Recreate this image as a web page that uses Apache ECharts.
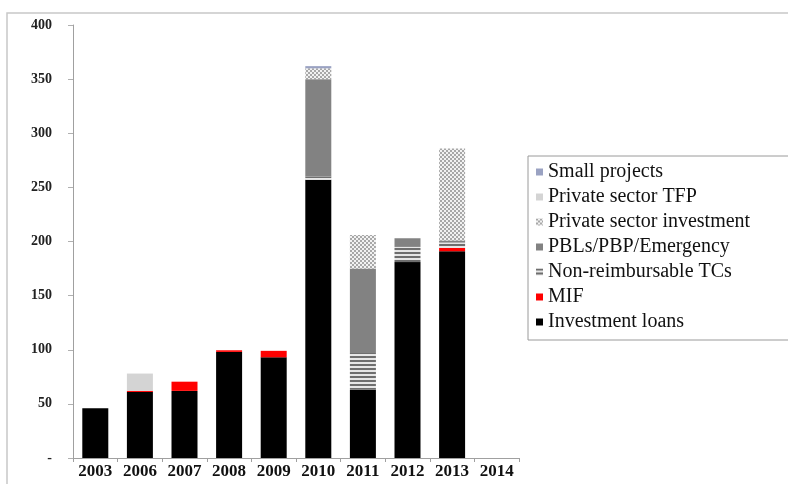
<!DOCTYPE html>
<html>
<head>
<meta charset="utf-8">
<script src="https://cdn.jsdelivr.net/npm/echarts@6/dist/echarts.min.js"></script>
<style>
  html, body { margin: 0; padding: 0; background: #fff; }
  #chart { width: 788px; height: 484px; }
</style>
</head>
<body>
<div id="chart"></div>
<script>
// categories and stacked values (bottom to top)
var years = ['2003', '2006', '2007', '2008', '2009', '2010', '2011', '2012', '2013', '2014'];
var investmentLoans = [46, 61, 62, 98, 93, 257, 63, 181, 191, null];
var mif = [null, 1, 8.5, 1.5, 6, null, null, null, 3, null];
var nonReimbTCs = [null, null, null, null, null, 3, 34, 14, 5, null];
var pbls = [null, null, null, null, null, 90, 78, 8, 2, null];
var privateInvestment = [null, null, null, null, null, 10, 31, null, 85, null];
var privateTFP = [null, 16, null, null, null, null, null, null, null, null];
var smallProjects = [null, null, null, null, null, 2, null, null, null, null];

// little canvas textures for the hatched series
function makePattern(w, h, draw) {
  var c = document.createElement('canvas');
  c.width = w; c.height = h;
  draw(c.getContext('2d'));
  return { image: c, repeat: 'repeat' };
}
var stripes = makePattern(4, 4, function (ctx) {
  ctx.fillStyle = '#e6e6e6'; ctx.fillRect(0, 0, 4, 4);
  ctx.fillStyle = '#6e6e6e'; ctx.fillRect(0, 0, 4, 2);
});
var checks = makePattern(4, 4, function (ctx) {
  ctx.fillStyle = '#f2f2f2'; ctx.fillRect(0, 0, 4, 4);
  ctx.fillStyle = '#a8a8a8';
  ctx.fillRect(0, 0, 2, 2); ctx.fillRect(2, 2, 2, 2);
});

var chart = echarts.init(document.getElementById('chart'));

function bar(name, data, color) {
  return {
    name: name,
    type: 'bar',
    stack: 'total',
    barWidth: 26,
    data: data,
    itemStyle: { color: color }
  };
}

var option = {
  animation: false,
  backgroundColor: '#fff',
  graphic: [{
    type: 'rect',
    shape: { x: 7, y: 13, width: 800, height: 500 },
    style: { fill: 'none', stroke: '#c8c8c8', lineWidth: 1.5 },
    silent: true
  }],
  grid: { left: 73, right: 269, top: 25, bottom: 26 },
  legend: {
    orient: 'vertical',
    left: 528,
    top: 156,
    padding: [6, 60, 8, 8],
    borderColor: '#9a9a9a',
    borderWidth: 1,
    itemWidth: 7,
    itemHeight: 7,
    itemGap: 5,
    icon: 'rect',
    textStyle: {
      fontFamily: 'Liberation Serif',
      fontSize: 20,
      lineHeight: 20,
      color: '#111'
    },
    data: ['Small projects', 'Private sector TFP', 'Private sector investment',
      'PBLs/PBP/Emergency', 'Non-reimbursable TCs', 'MIF', 'Investment loans']
  },
  xAxis: {
    type: 'category',
    data: years,
    axisLine: { lineStyle: { color: '#a0a0a0' } },
    axisTick: { show: true, length: 4, lineStyle: { color: '#a0a0a0' } },
    axisLabel: {
      fontFamily: 'Liberation Serif',
      fontWeight: 'bold',
      fontSize: 17,
      color: '#111',
      margin: 5
    }
  },
  yAxis: {
    type: 'value',
    min: 0,
    max: 400,
    interval: 50,
    splitLine: { show: false },
    axisLine: { show: true, lineStyle: { color: '#a0a0a0' } },
    axisTick: { show: true, length: 5, lineStyle: { color: '#b0b0b0' } },
    axisLabel: {
      fontFamily: 'Liberation Serif',
      fontWeight: 'bold',
      fontSize: 14,
      color: '#222',
      margin: 21,
      formatter: function (v) { return v === 0 ? '-' : v; }
    }
  },
  series: [
    bar('Investment loans', investmentLoans, '#000000'),
    bar('MIF', mif, '#ff0000'),
    bar('Non-reimbursable TCs', nonReimbTCs, stripes),
    bar('PBLs/PBP/Emergency', pbls, '#828282'),
    bar('Private sector investment', privateInvestment, checks),
    bar('Private sector TFP', privateTFP, '#d4d4d4'),
    bar('Small projects', smallProjects, '#9aa2c2')
  ]
};
chart.setOption(option);
</script>
</body>
</html>
